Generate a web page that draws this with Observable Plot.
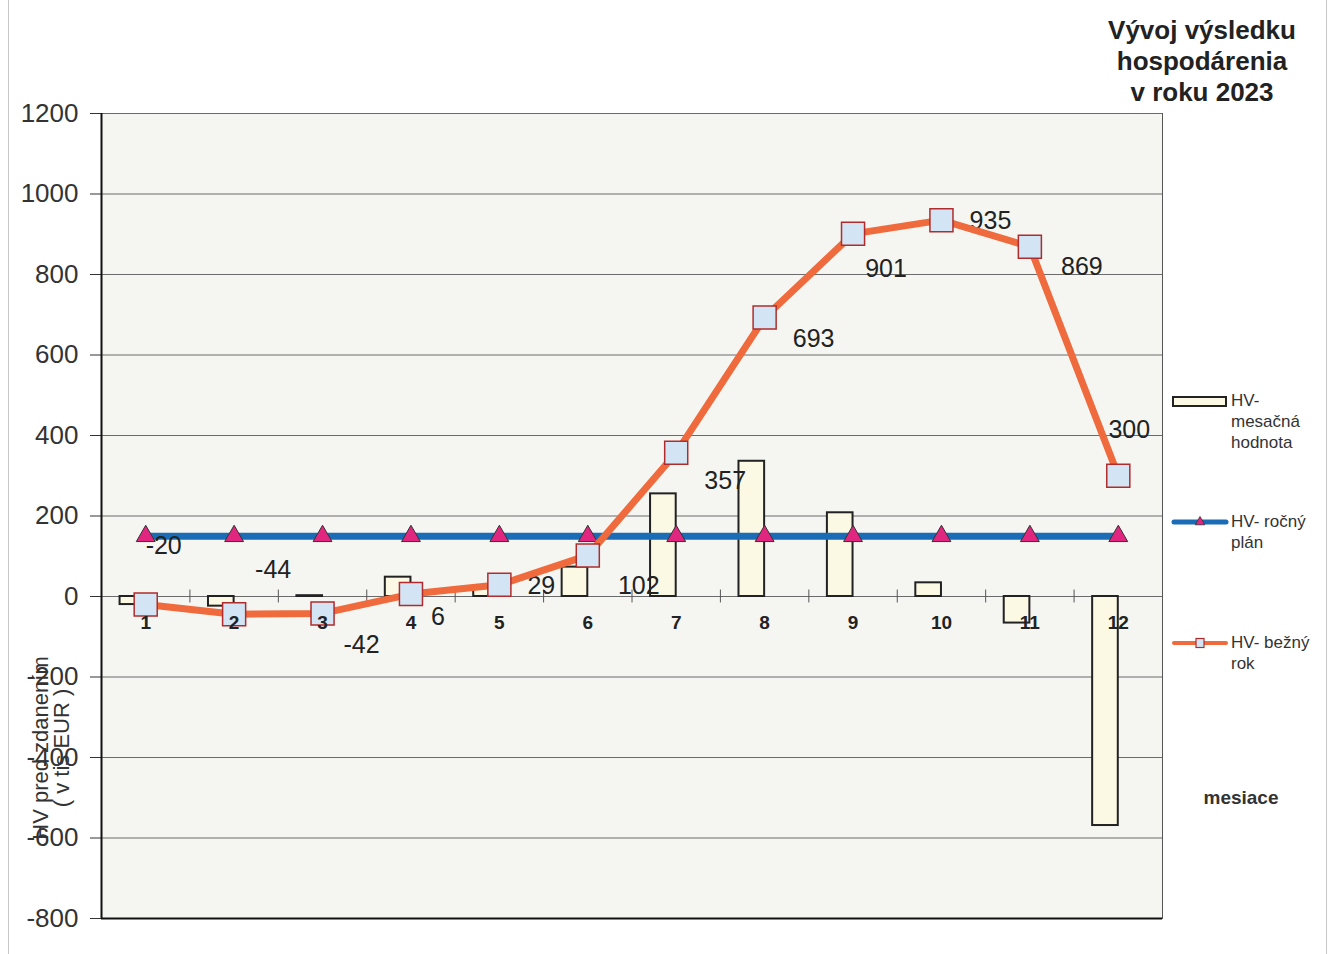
<!DOCTYPE html>
<html>
<head>
<meta charset="utf-8">
<script src="https://cdn.jsdelivr.net/npm/d3@7"></script>
<script src="https://cdn.jsdelivr.net/npm/@observablehq/plot@0.6"></script>
<style>
  html, body { margin: 0; padding: 0; background: #fff; }
  #wrap { position: relative; width: 1332px; height: 954px; font-family: "Liberation Sans", Arial, sans-serif; color: #222; overflow: hidden; }
  .abs { position: absolute; }
  .title { left: 1072px; top: 15px; width: 260px; text-align: center; font-weight: bold; font-size: 26px; line-height: 31px; color: #222; }
  .leg { font-size: 17px; line-height: 21px; color: #333; }
  .mes { left: 1181px; top: 787px; width: 120px; text-align: center; font-weight: bold; font-size: 19px; color: #333; }
  .ylab { left: 51px; top: 748px; width: 300px; transform: translate(-50%, -50%) rotate(-90deg); text-align: center; font-size: 22px; line-height: 21px; color: #333; }
  .edge { background: #c8c8c8; width: 1px; top: 0; height: 954px; }
</style>
</head>
<body>
<div id="wrap"></div>
<script>
// ---- data ----
const months = [1, 2, 3, 4, 5, 6, 7, 8, 9, 10, 11, 12];
const monthly = [-20, -24, 2, 48, 23, 73, 255, 336, 208, 34, -66, -569];   // HV- mesačná hodnota
const cumulative = [-20, -44, -42, 6, 29, 102, 357, 693, 901, 935, 869, 300]; // HV- bežný rok
const plan = [150, 150, 150, 150, 150, 150, 150, 150, 150, 150, 150, 150];   // HV- ročný plán
const yTicks = [-800, -600, -400, -200, 0, 200, 400, 600, 800, 1000, 1200];
const titleLines = ["Vývoj výsledku", "hospodárenia", "v roku 2023"];
const legendNames = [["HV-", "mesačná", "hodnota"], ["HV- ročný", "plán"], ["HV- bežný", "rok"]];
const yLabelLines = ["HV pred zdanením", "( v tis EUR )"];
const xTitle = "mesiace";

// ---- build ----
const rows = months.map((m, i) => ({m, monthly: monthly[i], cum: cumulative[i], plan: plan[i]}));
const boundaries = months.slice(0, -1).map(m => m + 0.5);

// label offsets (px) relative to each cumulative point, as placed in the original
const labelOffsets = [[18,-59],[39,-44],[39,32],[27,23],[42,1],[51,31],[49,28],[49,21],[33,35],[49,1],[52,20],[11,-46]];
const labelMarks = rows.map((r, i) => Plot.text([r], {
  x: "m", y: "cum", text: d => String(d.cum),
  dx: labelOffsets[i][0], dy: labelOffsets[i][1],
  fontSize: 25, fill: "#222"
}));

const chart = Plot.plot({
  width: 1332, height: 954,
  marginLeft: 101, marginRight: 170, marginTop: 113, marginBottom: 36,
  style: {fontFamily: "'Liberation Sans', Arial, sans-serif", background: "transparent", overflow: "visible"},
  x: {domain: [0.5, 12.5], axis: null},
  y: {domain: [-800, 1200], ticks: yTicks, label: null, axis: null},
  marks: [
    Plot.frame({fill: "#f5f6f2", stroke: "#555", strokeWidth: 1}),
    Plot.ruleY(yTicks, {stroke: "#6a6a6a", strokeWidth: 1}),
    Plot.axisY({ticks: yTicks, tickSize: 11, tickPadding: 12, fontSize: 26, color: "#333", tickFormat: d => String(d), label: null}),
    Plot.ruleX([0.5], {stroke: "#111", strokeWidth: 2}),
    Plot.ruleY([-800], {stroke: "#111", strokeWidth: 2}),
    Plot.ruleX(boundaries, {y1: -16, y2: 16, stroke: "#555", strokeWidth: 1}),
    Plot.rectY(rows, {x1: d => d.m - 0.29, x2: d => d.m, y1: 0, y2: "monthly", fill: "#fbf8e4", stroke: "#222", strokeWidth: 2}),
    Plot.line(rows, {x: "m", y: "plan", stroke: "#1a6cb6", strokeWidth: 7}),
    ...labelMarks,
    Plot.dot(rows, {x: "m", y: "plan", symbol: "triangle", r: 7, fill: "#e1267f", stroke: "#333", strokeWidth: 1}),
    Plot.line(rows, {x: "m", y: "cum", stroke: "#ef6a3c", strokeWidth: 7}),
    Plot.dot(rows, {x: "m", y: "cum", symbol: "square", r: 13, fill: "#d3e5f4", stroke: "#b02c2c", strokeWidth: 1.5}),
    Plot.text(rows, {x: "m", y: 0, text: d => String(d.m), dy: 26, fontSize: 19, fontWeight: "bold", fill: "#222"})
  ]
});

const wrap = document.getElementById("wrap");
chart.style.position = "absolute";
chart.style.left = "0px";
chart.style.top = "0px";
wrap.appendChild(chart);

function addDiv(cls, html, style) {
  const d = document.createElement("div");
  d.className = "abs " + cls;
  d.innerHTML = html;
  if (style) Object.assign(d.style, style);
  wrap.appendChild(d);
  return d;
}

// page edges (scan)
addDiv("edge", "", {left: "8px"});
addDiv("edge", "", {left: "1326px"});

// title
addDiv("title", titleLines.join("<br>"));

// y label
addDiv("ylab", yLabelLines.join("<br>"));

// x title
addDiv("mes", xTitle);

// legend
const legendTop = [390, 511, 632];
legendNames.forEach((lines, i) => {
  addDiv("leg", lines.join("<br>"), {left: "1231px", top: legendTop[i] + "px"});
});
const lsvg = d3.create("svg").attr("width", 70).attr("height", 300)
  .style("position", "absolute").style("left", "1165px").style("top", "380px");
lsvg.append("rect").attr("x", 8).attr("y", 17).attr("width", 53).attr("height", 9)
  .attr("fill", "#fbf8e4").attr("stroke", "#222").attr("stroke-width", 2);
lsvg.append("line").attr("x1", 9).attr("x2", 61).attr("y1", 142).attr("y2", 142)
  .attr("stroke", "#1a6cb6").attr("stroke-width", 5).attr("stroke-linecap", "round");
lsvg.append("path").attr("d", d3.symbol(d3.symbolTriangle, 40)()).attr("transform", "translate(35,142)")
  .attr("fill", "#e1267f").attr("stroke", "#333").attr("stroke-width", 0.8);
lsvg.append("line").attr("x1", 9).attr("x2", 61).attr("y1", 263).attr("y2", 263)
  .attr("stroke", "#ef6a3c").attr("stroke-width", 4).attr("stroke-linecap", "round");
lsvg.append("rect").attr("x", 31).attr("y", 258.5).attr("width", 8).attr("height", 9)
  .attr("fill", "#d3e5f4").attr("stroke", "#b02c2c").attr("stroke-width", 1.2);
wrap.appendChild(lsvg.node());
</script>
</body>
</html>
